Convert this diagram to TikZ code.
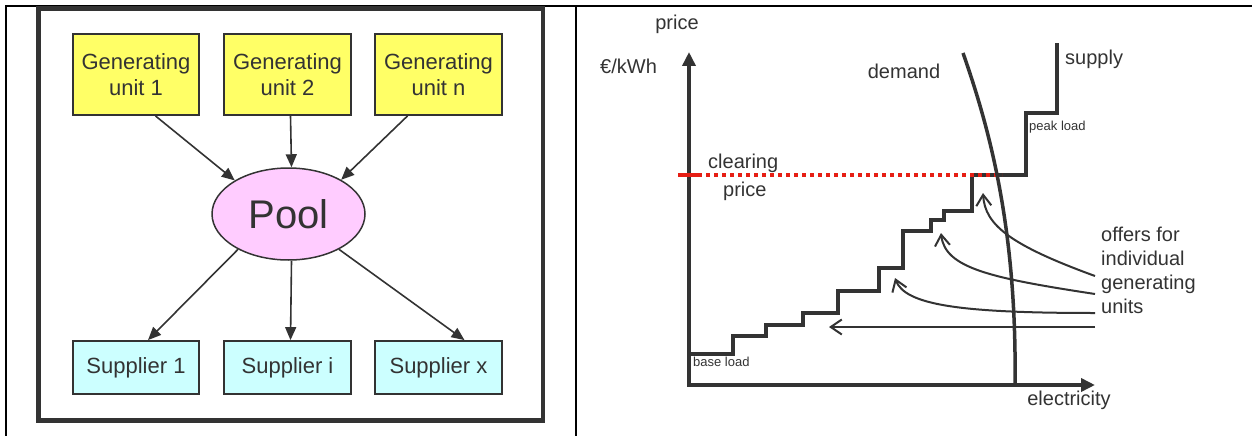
\documentclass[tikz,border=0pt]{standalone}
\usepackage{fontspec}
\setmainfont{Liberation Sans}
\usetikzlibrary{shapes.geometric,arrows.meta,calc}
\definecolor{ink}{HTML}{333333}
\definecolor{genfill}{HTML}{FFFF66}
\definecolor{supfill}{HTML}{CCFFFF}
\definecolor{poolfill}{HTML}{FFCCFF}
\definecolor{clearred}{RGB}{230,30,20}
\tikzset{
  genbox/.style={draw=ink, line width=1.8pt, fill=genfill, minimum width=126.5pt,
    minimum height=80.7pt, inner sep=0pt, align=center, text=ink,
    font=\fontsize{22}{26}\selectfont},
  supbox/.style={draw=ink, line width=1.8pt, fill=supfill, minimum width=126.5pt,
    minimum height=53pt, inner sep=0pt, align=center, text=ink,
    font=\fontsize{22}{26}\selectfont},
  poolnode/.style={ellipse, draw=ink, line width=1.5pt, fill=poolfill,
    minimum width=153pt, minimum height=92pt, inner sep=0pt, text=ink,
    font=\fontsize{40}{44}\selectfont},
  flow/.style={draw=ink, line width=1.6pt, -{Triangle[length=13pt,width=11pt]}},
  axisline/.style={draw=ink, line width=4pt, line join=miter,
    {Triangle[length=14pt,width=13pt]}-{Triangle[length=14pt,width=13pt]}},
  stepline/.style={draw=ink, line width=3.5pt, line join=miter},
  offer/.style={draw=ink, line width=2pt, -{Straight Barb[length=11pt,width=15pt]}},
  lab/.style={inner sep=0pt, text=ink, font=\fontsize{20}{24}\selectfont,
    text height=14pt, text depth=4pt},
  smalllab/.style={inner sep=0pt, text=ink, font=\fontsize{13}{15}\selectfont,
    text height=9.1pt, text depth=2.6pt},
}
\begin{document}
\begin{tikzpicture}[x=1pt,y=-1pt]
\useasboundingbox (0,0) rectangle (1252,436);

% table rules
\draw[black, line width=2pt] (6,436) -- (6,6) -- (1252,6);
\draw[black, line width=2pt] (576,6) -- (576,436);

% ---------- pool model ----------
\draw[ink, line width=4.5pt] (38.5,8.5) rectangle (543,420.5);

\node[genbox] (gen1) at (136,74.7)   {Generating\\unit 1};
\node[genbox] (gen2) at (287.5,74.7) {Generating\\unit 2};
\node[genbox] (genn) at (438.5,74.7) {Generating\\unit n};

\node[poolnode] (pool) at (288.5,214) {Pool};

\node[supbox] (sup1) at (136,367.5)   {Supplier 1};
\node[supbox] (supi) at (287.5,367.5) {Supplier i};
\node[supbox] (supx) at (438.5,367.5) {Supplier x};

\draw[flow] ($(gen1.south)+(19.5,0)$) -- (pool.148);
\draw[flow] ($(gen2.south)+(3,0)$) -- ($(pool.north)+(3,0)$);
\draw[flow] ($(genn.south)+(-31,0)$) -- (pool.33);

\draw[flow] (pool.215) -- ($(sup1.north)+(12,0)$);
\draw[flow] ($(pool.south)+(3,0)$) -- ($(supi.north)+(3,0)$);
\draw[flow] (pool.325) -- ($(supx.north)+(26,0)$);

% ---------- merit order chart ----------
\coordinate (O) at (689,385);
\coordinate (ytip) at (689,52);
\coordinate (xtip) at (1095,385);
\draw[axisline] (ytip) -- (O) -- (xtip);

\node[lab, anchor=center] (ptitle) at (677,25) {price};
\node[lab, anchor=west] (unit) at (600,69) {€/kWh};
\node[lab, anchor=center] (xlab) at (1069,400) {electricity};

% supply curve (bids stacked by price)
\draw[stepline] (689,354) -- (733,354) -- (733,336) -- (766,336) -- (766,325)
  -- (803,325) -- (803,313) -- (838,313) -- (838,291) -- (879,291) -- (879,268)
  -- (903,268) -- (903,231) -- (931,231) -- (931,220) -- (944,220) -- (944,211)
  -- (972,211) -- (972,175) -- (1026,175) -- (1026,113) -- (1057,113) -- (1057,43);

% clearing price
\draw[clearred, line width=4pt] (678,175) -- (698,175);
\draw[clearred, line width=4pt, dash pattern=on 4pt off 4pt] (698,175) -- (1002,175);

% demand curve
\draw[draw=ink, line width=3.5pt] (963,53) .. controls (990,130) and (1017,230) .. (1015,385);

\node[lab, anchor=center] (dlab) at (904,73) {demand};
\node[lab, anchor=west] (slab) at (1065,60) {supply};
\node[smalllab, anchor=west] (peak) at (1029,127) {peak load};
\node[smalllab, anchor=west] (base) at (693,363) {base load};
\node[lab, anchor=west] (clr1) at (708,163) {clearing};
\node[lab, anchor=west] (clr2) at (723,191) {price};

\node[inner sep=0pt, text=ink, font=\fontsize{20}{24}\selectfont, align=left,
  anchor=north west] (offers) at (1101,226.5) {offers for\\individual\\generating\\units};

% offer arrows
\coordinate (a1s) at (1095,327); \coordinate (a1e) at (829,327);
\coordinate (a2s) at (1095,313); \coordinate (a2e) at (895,278);
\coordinate (a3s) at (1095,294); \coordinate (a3e) at (941,233);
\coordinate (a4s) at (1095,276); \coordinate (a4e) at (983,193);
\draw[offer] (a1s) -- (a1e);
\draw[offer] (a2s) .. controls (960,313) and (905,305) .. (a2e);
\draw[offer] (a3s) .. controls (990,278) and (945,268) .. (a3e);
\draw[offer] (a4s) .. controls (1010,245) and (985,225) .. (a4e);
\end{tikzpicture}
\end{document}
